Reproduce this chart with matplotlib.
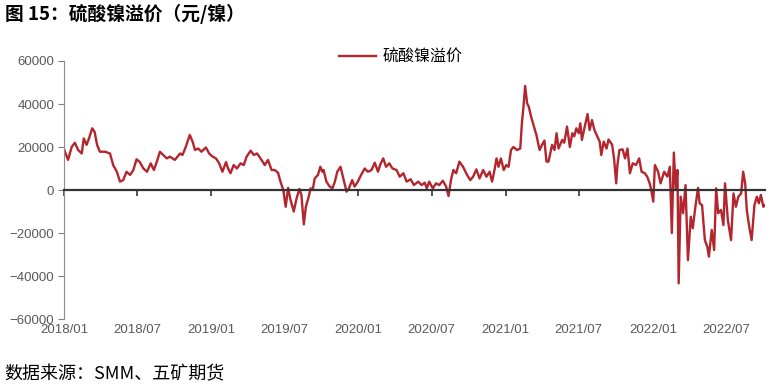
import pandas as pd
import matplotlib
matplotlib.use("Agg")
import matplotlib.pyplot as plt

plt.rcParams['font.family'] = ['Noto Sans CJK SC', 'DejaVu Sans']
plt.rcParams['axes.unicode_minus'] = True

# 硫酸镍溢价（元/镍），从图上读取的近似值
dates = [
    "2018-01-01", "2018-01-11", "2018-01-20", "2018-01-28", "2018-02-05", "2018-02-14",
    "2018-02-19", "2018-02-26", "2018-03-04", "2018-03-12", "2018-03-18", "2018-03-24",
    "2018-03-31", "2018-04-13", "2018-04-25", "2018-05-03", "2018-05-12", "2018-05-20",
    "2018-05-28", "2018-06-05", "2018-06-14", "2018-06-22", "2018-06-30", "2018-07-08",
    "2018-07-17", "2018-07-26", "2018-08-04", "2018-08-12", "2018-08-19", "2018-08-27",
    "2018-09-04", "2018-09-13", "2018-09-21", "2018-10-03", "2018-10-16", "2018-10-22",
    "2018-10-30", "2018-11-09", "2018-11-16", "2018-11-22", "2018-11-30", "2018-12-08",
    "2018-12-19", "2018-12-27", "2019-01-05", "2019-01-13", "2019-01-21", "2019-01-29",
    "2019-02-07", "2019-02-12", "2019-02-18", "2019-02-26", "2019-03-06", "2019-03-15",
    "2019-03-23", "2019-03-30", "2019-04-09", "2019-04-17", "2019-04-25", "2019-05-06",
    "2019-05-14", "2019-05-22", "2019-05-31", "2019-06-08", "2019-06-16", "2019-06-22",
    "2019-06-29", "2019-07-05", "2019-07-11", "2019-07-17", "2019-07-25", "2019-08-01",
    "2019-08-08", "2019-08-13", "2019-08-19", "2019-08-24", "2019-08-30", "2019-09-05",
    "2019-09-10", "2019-09-15", "2019-09-23", "2019-09-29", "2019-10-04", "2019-10-07",
    "2019-10-14", "2019-10-22", "2019-10-29", "2019-11-04", "2019-11-10", "2019-11-18",
    "2019-11-25", "2019-12-03", "2019-12-09", "2019-12-17", "2019-12-23", "2019-12-31",
    "2020-01-08", "2020-01-17", "2020-01-25", "2020-02-03", "2020-02-11", "2020-02-19",
    "2020-02-25", "2020-03-03", "2020-03-10", "2020-03-18", "2020-03-26", "2020-04-05",
    "2020-04-13", "2020-04-22", "2020-04-30", "2020-05-10", "2020-05-18", "2020-05-29",
    "2020-06-06", "2020-06-14", "2020-06-19", "2020-06-25", "2020-07-04", "2020-07-12",
    "2020-07-20", "2020-07-29", "2020-08-06", "2020-08-12", "2020-08-18", "2020-08-24",
    "2020-08-31", "2020-09-08", "2020-09-17", "2020-09-27", "2020-10-05", "2020-10-12",
    "2020-10-20", "2020-10-28", "2020-11-06", "2020-11-14", "2020-11-22", "2020-11-28",
    "2020-12-04", "2020-12-09", "2020-12-14", "2020-12-20", "2020-12-27", "2021-01-02",
    "2021-01-08", "2021-01-14", "2021-01-20", "2021-01-29", "2021-02-06", "2021-02-10",
    "2021-02-14", "2021-02-18", "2021-02-23", "2021-02-27", "2021-03-05", "2021-03-11",
    "2021-03-18", "2021-03-26", "2021-04-01", "2021-04-07", "2021-04-12", "2021-04-17",
    "2021-04-26", "2021-05-02", "2021-05-07", "2021-05-12", "2021-05-21", "2021-05-26",
    "2021-06-02", "2021-06-09", "2021-06-15", "2021-06-20", "2021-06-25", "2021-07-01",
    "2021-07-05", "2021-07-09", "2021-07-15", "2021-07-23", "2021-07-28", "2021-08-03",
    "2021-08-09", "2021-08-16", "2021-08-22", "2021-08-26", "2021-09-01", "2021-09-08",
    "2021-09-13", "2021-09-22", "2021-09-27", "2021-10-02", "2021-10-05", "2021-10-10",
    "2021-10-18", "2021-10-24", "2021-10-30", "2021-11-05", "2021-11-12", "2021-11-20",
    "2021-11-28", "2021-12-04", "2021-12-12", "2021-12-18", "2021-12-24", "2021-12-28",
    "2022-01-02", "2022-01-06", "2022-01-14", "2022-01-20", "2022-01-29", "2022-02-06",
    "2022-02-12", "2022-02-17", "2022-02-22", "2022-02-27", "2022-03-03", "2022-03-06",
    "2022-03-11", "2022-03-17", "2022-03-23", "2022-03-29", "2022-04-05", "2022-04-10",
    "2022-04-16", "2022-04-23", "2022-04-27", "2022-05-03", "2022-05-10", "2022-05-16",
    "2022-05-20", "2022-05-27", "2022-06-02", "2022-06-07", "2022-06-12", "2022-06-19",
    "2022-06-25", "2022-06-29", "2022-07-06", "2022-07-14", "2022-07-20", "2022-07-26",
    "2022-08-01", "2022-08-08", "2022-08-13", "2022-08-18", "2022-08-22", "2022-08-28",
    "2022-09-03", "2022-09-10", "2022-09-16", "2022-09-21", "2022-09-26", "2022-10-02",
    "2022-10-06",
]
premium = [
    19000, 14000, 20000, 22000, 18600, 17000,
    24000, 21000, 24000, 28700, 27000, 21000,
    17800, 17800, 17000, 11600, 8500, 3900,
    4600, 8500, 7000, 9300, 14300, 13000,
    10000, 8500, 12400, 9300, 13000, 17800,
    16300, 14700, 15500, 14000, 17000, 16300,
    20000, 25600, 22500, 18600, 19300, 17800,
    19800, 17000, 15500, 14700, 12400, 8500,
    13000, 10000, 7800, 11600, 10000, 12400,
    11600, 15500, 18300, 16300, 17000, 14000,
    11600, 14000, 9300, 9300, 8000, 3900,
    0, -7800, 1000, -4600, -10000, -3900,
    500, -2300, -16000, -7800, -3900, 800,
    0, 5400, 7000, 10800, 8500, 9300,
    3900, 1600, 800, 3900, 8500, 10800,
    5400, -800, 800, 4600, 1600, 3900,
    7000, 10000, 8500, 9300, 12700, 8500,
    12000, 14700, 10800, 12400, 10000, 9300,
    6200, 7800, 3900, 5000, 2300, 3900,
    2300, 3400, 800, 3900, 800, 3100,
    2300, 4300, 1600, -2800, 4600, 9300,
    7800, 13200, 10800, 7000, 4600, 6200,
    9600, 5400, 9300, 6200, 8500, 3900,
    9300, 14700, 10800, 14700, 9300, 11600,
    10800, 18600, 20000, 18600, 19300, 31000,
    38800, 48400, 40300, 38800, 34000, 30200,
    25600, 18600, 21000, 23000, 13200, 13200,
    21000, 18600, 26400, 19300, 23300, 22000,
    29500, 20000, 26400, 25000, 28700, 26400,
    31000, 23300, 28700, 35300, 27900, 32500,
    27900, 25000, 22500, 16300, 22500, 19300,
    23500, 21000, 14000, 3100, 11600, 18600,
    18900, 14700, 19300, 7800, 12400, 11600,
    14700, 8500, 7800, 6200, 3100, 0,
    -5400, 11600, 8500, 3100, 8500, 6200,
    10800, -20000, 17400, 0, 9300, -43400,
    -3100, -10800, 2300, -32600, -12400, -17800,
    -8500, 1000, -6200, -7000, -23300, -26400,
    -31000, -18600, -27900, 800, -10800, -9300,
    -16300, 3100, -14000, -23300, -1600, -7800,
    -3100, -1600, 8500, 3100, -9300, -17000,
    -23300, -7000, -3100, -6200, -2300, -7800,
    -7000,
]
tick_dates = ["2018-01-01", "2018-07-01", "2019-01-01", "2019-07-01", "2020-01-01",
              "2020-07-01", "2021-01-01", "2021-07-01", "2022-01-01", "2022-07-01"]
y_ticks = [-60000, -40000, -20000, 0, 20000, 40000, 60000]

x = pd.to_datetime(dates)
ticks = pd.to_datetime(tick_dates)

fig = plt.figure(figsize=(7.75, 3.9), dpi=100)
ax = fig.add_axes([0.0826, 0.182, 0.9044, 0.6616])

line, = ax.plot(x, premium, color='#B3262E', lw=1.7, label='硫酸镍溢价')

ax.set_xlim(x[0], x[-1])
ax.set_ylim(-60000, 60000)
ax.set_yticks(y_ticks)
ax.set_yticklabels([f"{v:d}".replace('-', '\u2212') for v in y_ticks],
                   family='Liberation Sans', fontsize=9.5, color='#595959')
ax.tick_params(axis='y', direction='out', length=4, color='#7f7f7f', pad=3)

# x 轴画在 0 的位置，标签放在底部
for s in ['top', 'right']:
    ax.spines[s].set_visible(False)
ax.spines['left'].set_color('#8c8c8c')
ax.spines['bottom'].set_position(('data', 0))
ax.spines['bottom'].set_color('#333333')
ax.spines['bottom'].set_linewidth(1.6)
ax.set_xticks(ticks)
ax.tick_params(axis='x', direction='out', length=4, width=1.2, color='#333333',
               labelbottom=False)
for t in ticks:
    ax.text(t, -0.018, t.strftime('%Y/%m'), transform=ax.get_xaxis_transform(),
            ha='center', va='top', fontsize=9.5, color='#595959', family='Liberation Sans')

fig.legend(handles=[line], loc='center', bbox_to_anchor=(0.517, 0.853), frameon=False,
           fontsize=11.5, handlelength=2.3, handletextpad=0.4)

fig.text(0.006, 0.963, '图 15：硫酸镍溢价（元/镍）', fontsize=13.5, fontweight='bold',
         va='center', ha='left')
fig.text(0.006, 0.04, '数据来源：SMM、五矿期货', fontsize=13, va='center', ha='left')

fig.savefig('out.png', dpi=100)
